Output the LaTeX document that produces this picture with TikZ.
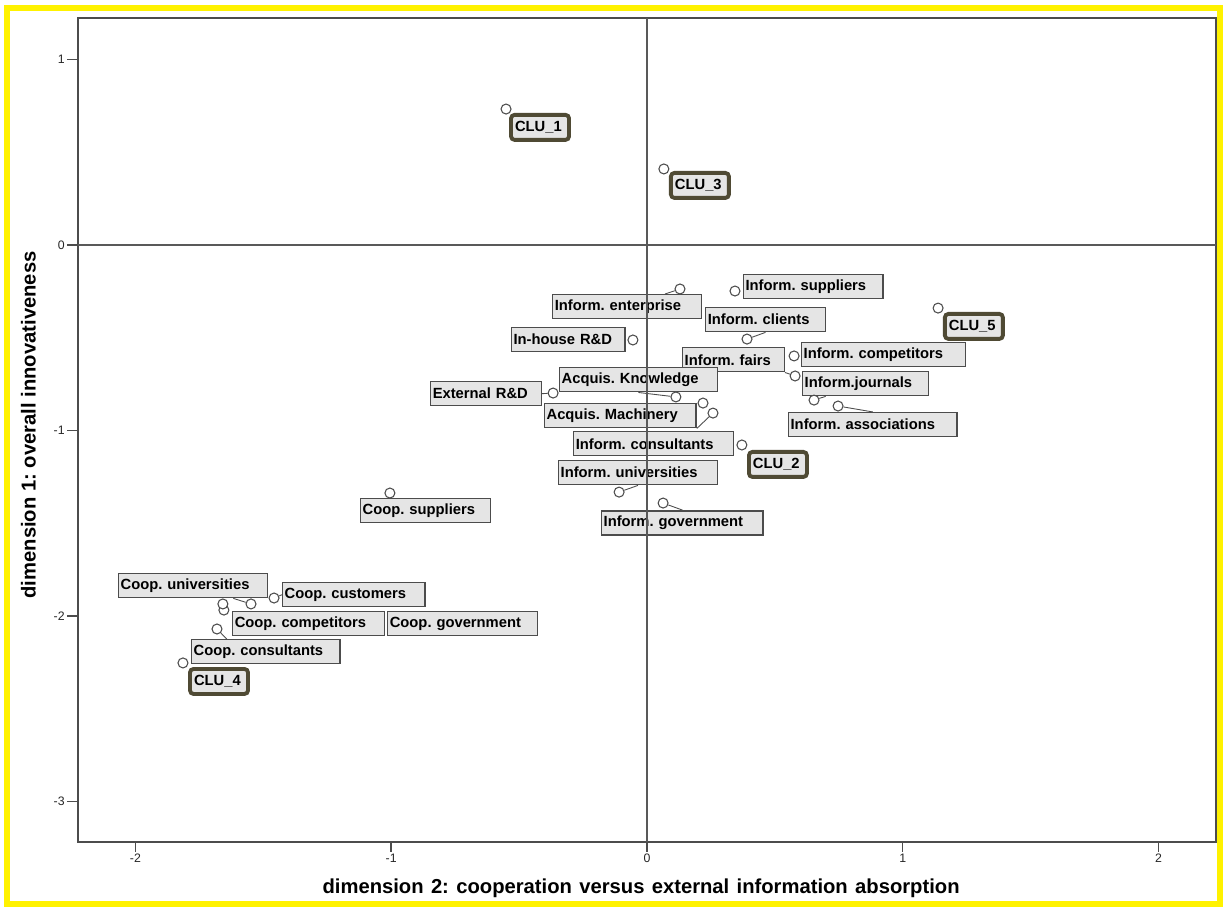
\documentclass[tikz,border=0pt]{standalone}
\usepackage{fontspec}
\setmainfont{Liberation Sans}
\definecolor{clubrd}{RGB}{79,74,52}
\frenchspacing

\begin{document}
\begin{tikzpicture}[x=5.116cm, y=3.71cm, font=\fontsize{8.4}{10}\selectfont\bfseries]
  \tikzset{pt/.style={circle, draw=black!70, fill=white, line width=0.6pt, minimum size=0.2cm, inner sep=0pt},
           lbl/.style={draw=black!70, fill=gray!20, line width=0.8pt, anchor=north west, minimum height=0.48cm,
                       inner xsep=0.04cm, inner ysep=0pt, align=left},
           clu/.style={lbl, draw=clubrd, line width=2.2pt, rounded corners=2pt, minimum height=0.5cm, inner xsep=0.08cm},
           link/.style={black!70, line width=0.5pt},
           ticklbl/.style={font=\fontsize{7}{8}\selectfont, text=black!85, inner sep=1pt}}
  \useasboundingbox (-2.5293,1.3208) rectangle (2.2518,-3.5687);
  % ---- frame, ticks and axis titles ----
  \draw[yellow, line width=0.12cm] (-2.502,1.278) rectangle (2.242,-3.555);
  \draw[black!70, line width=1.3pt] (-2.224,1.224) rectangle (2.224,-3.218);
  \foreach \v in {1,0,-1,-2,-3} {
    \draw[black!70, line width=0.8pt] (-2.224,\v) -- (-2.267,\v) node[ticklbl, anchor=east] (ty\v) {\v};
  }
  \foreach \v in {-2,-1,0,1,2} {
    \draw[black!70, line width=0.8pt] (\v,-3.218) -- (\v,-3.272);
    \node[ticklbl] (tx\v) at (\v,-3.305) {\v};
  }
  \node[font=\fontsize{11.5}{13}\selectfont\bfseries] (xtitle) at (-0.023,-3.466)
    {\makebox[12.74cm][s]{dimension 2: cooperation versus external information absorption}};
  \node[rotate=90, font=\fontsize{11.5}{13}\selectfont\bfseries] (ytitle) at (-2.418,-0.970)
    {dimension 1: overall innovativeness};
  % ---- labels: name / left / top / width in px / text ----
  \foreach \nm/\x/\y/\w/\t in {
    ent/-0.371/-0.264/150/{Inform. enterprise},
    sup/0.375/-0.156/141/{Inform. suppliers},
    cli/0.227/-0.334/121/{Inform. clients},
    inh/-0.532/-0.442/115/{In-house R\&D},
    fai/0.137/-0.550/103/{Inform. fairs},
    com/0.602/-0.523/165/{Inform. competitors},
    jou/0.606/-0.679/127/{Inform.journals},
    ass/0.551/-0.900/170/{Inform. associations},
    ext/-0.848/-0.733/112/{External R\&D},
    kno/-0.344/-0.658/159/{Acquis. Knowledge},
    mac/-0.403/-0.852/153/{Acquis. Machinery},
    con/-0.289/-1.003/161/{Inform. consultants},
    uni/-0.348/-1.159/160/{Inform. universities},
    gov/-0.180/-1.429/163/{Inform. government},
    csup/-1.122/-1.364/131/{Coop. suppliers},
    cuni/-2.068/-1.768/150/{Coop. universities},
    ccus/-1.427/-1.817/144/{Coop. customers},
    ccom/-1.622/-1.973/153/{Coop. competitors},
    cgov/-1.016/-1.973/151/{Coop. government},
    ccon/-1.783/-2.124/150/{Coop. consultants}} {
    \pgfmathsetmacro{\tw}{0.02*\w-0.11}
    \node[lbl, text width=\tw cm] (l-\nm) at (\x,\y) {\t};
  }
  % ---- cluster centres ----
  \foreach \nm/\x/\y/\t in {clu1/-0.539/0.712/1, clu3/0.086/0.399/3, clu5/1.157/-0.361/5,
                            clu2/0.391/-1.105/2, clu4/-1.794/-2.275/4} {
    \node[clu, text width=1.0cm] (l-\nm) at (\x,\y) {CLU\_\t};
  }
  % ---- points ----
  \foreach \nm/\x/\y in {clu1/-0.551/0.733, clu3/0.066/0.410, clu5/1.138/-0.340, clu2/0.371/-1.078, clu4/-1.814/-2.253,
                         ent/0.129/-0.237, sup/0.344/-0.248, cli/0.391/-0.507, inh/-0.055/-0.512, fai/0.579/-0.706,
                         com/0.575/-0.598, jou/0.653/-0.836, ass/0.747/-0.868, ext/-0.367/-0.798, kno/0.113/-0.819,
                         mac/0.258/-0.906, con/0.219/-0.852, uni/-0.109/-1.332, gov/0.063/-1.391, csup/-1.005/-1.337,
                         cuni/-1.548/-1.935, ccus/-1.458/-1.903, ccom/-1.654/-1.968, cgov/-1.658/-1.935, ccon/-1.681/-2.070} {
    \node[pt] (p-\nm) at (\x,\y) {};
  }
  % ---- leader lines ----
  \foreach \a/\b in {ent/l-ent, cli/l-cli.south, fai/l-fai.south east, jou/l-jou, ass/l-ass.north,
                     ext/l-ext.east, kno/l-kno.south, mac/l-mac.south east, uni/l-uni.south, gov/l-gov.north,
                     cuni/l-cuni, ccus/l-ccus.west, ccon/l-ccon.162} {
    \draw[link] (p-\a) -- (\b);
  }
  % ---- zero lines ----
  \draw[black!65, line width=0.8pt] (0,1.224) -- (0,-3.218);
  \draw[black!65, line width=0.8pt] (-2.224,0) -- (2.224,0);
\end{tikzpicture}
\end{document}
